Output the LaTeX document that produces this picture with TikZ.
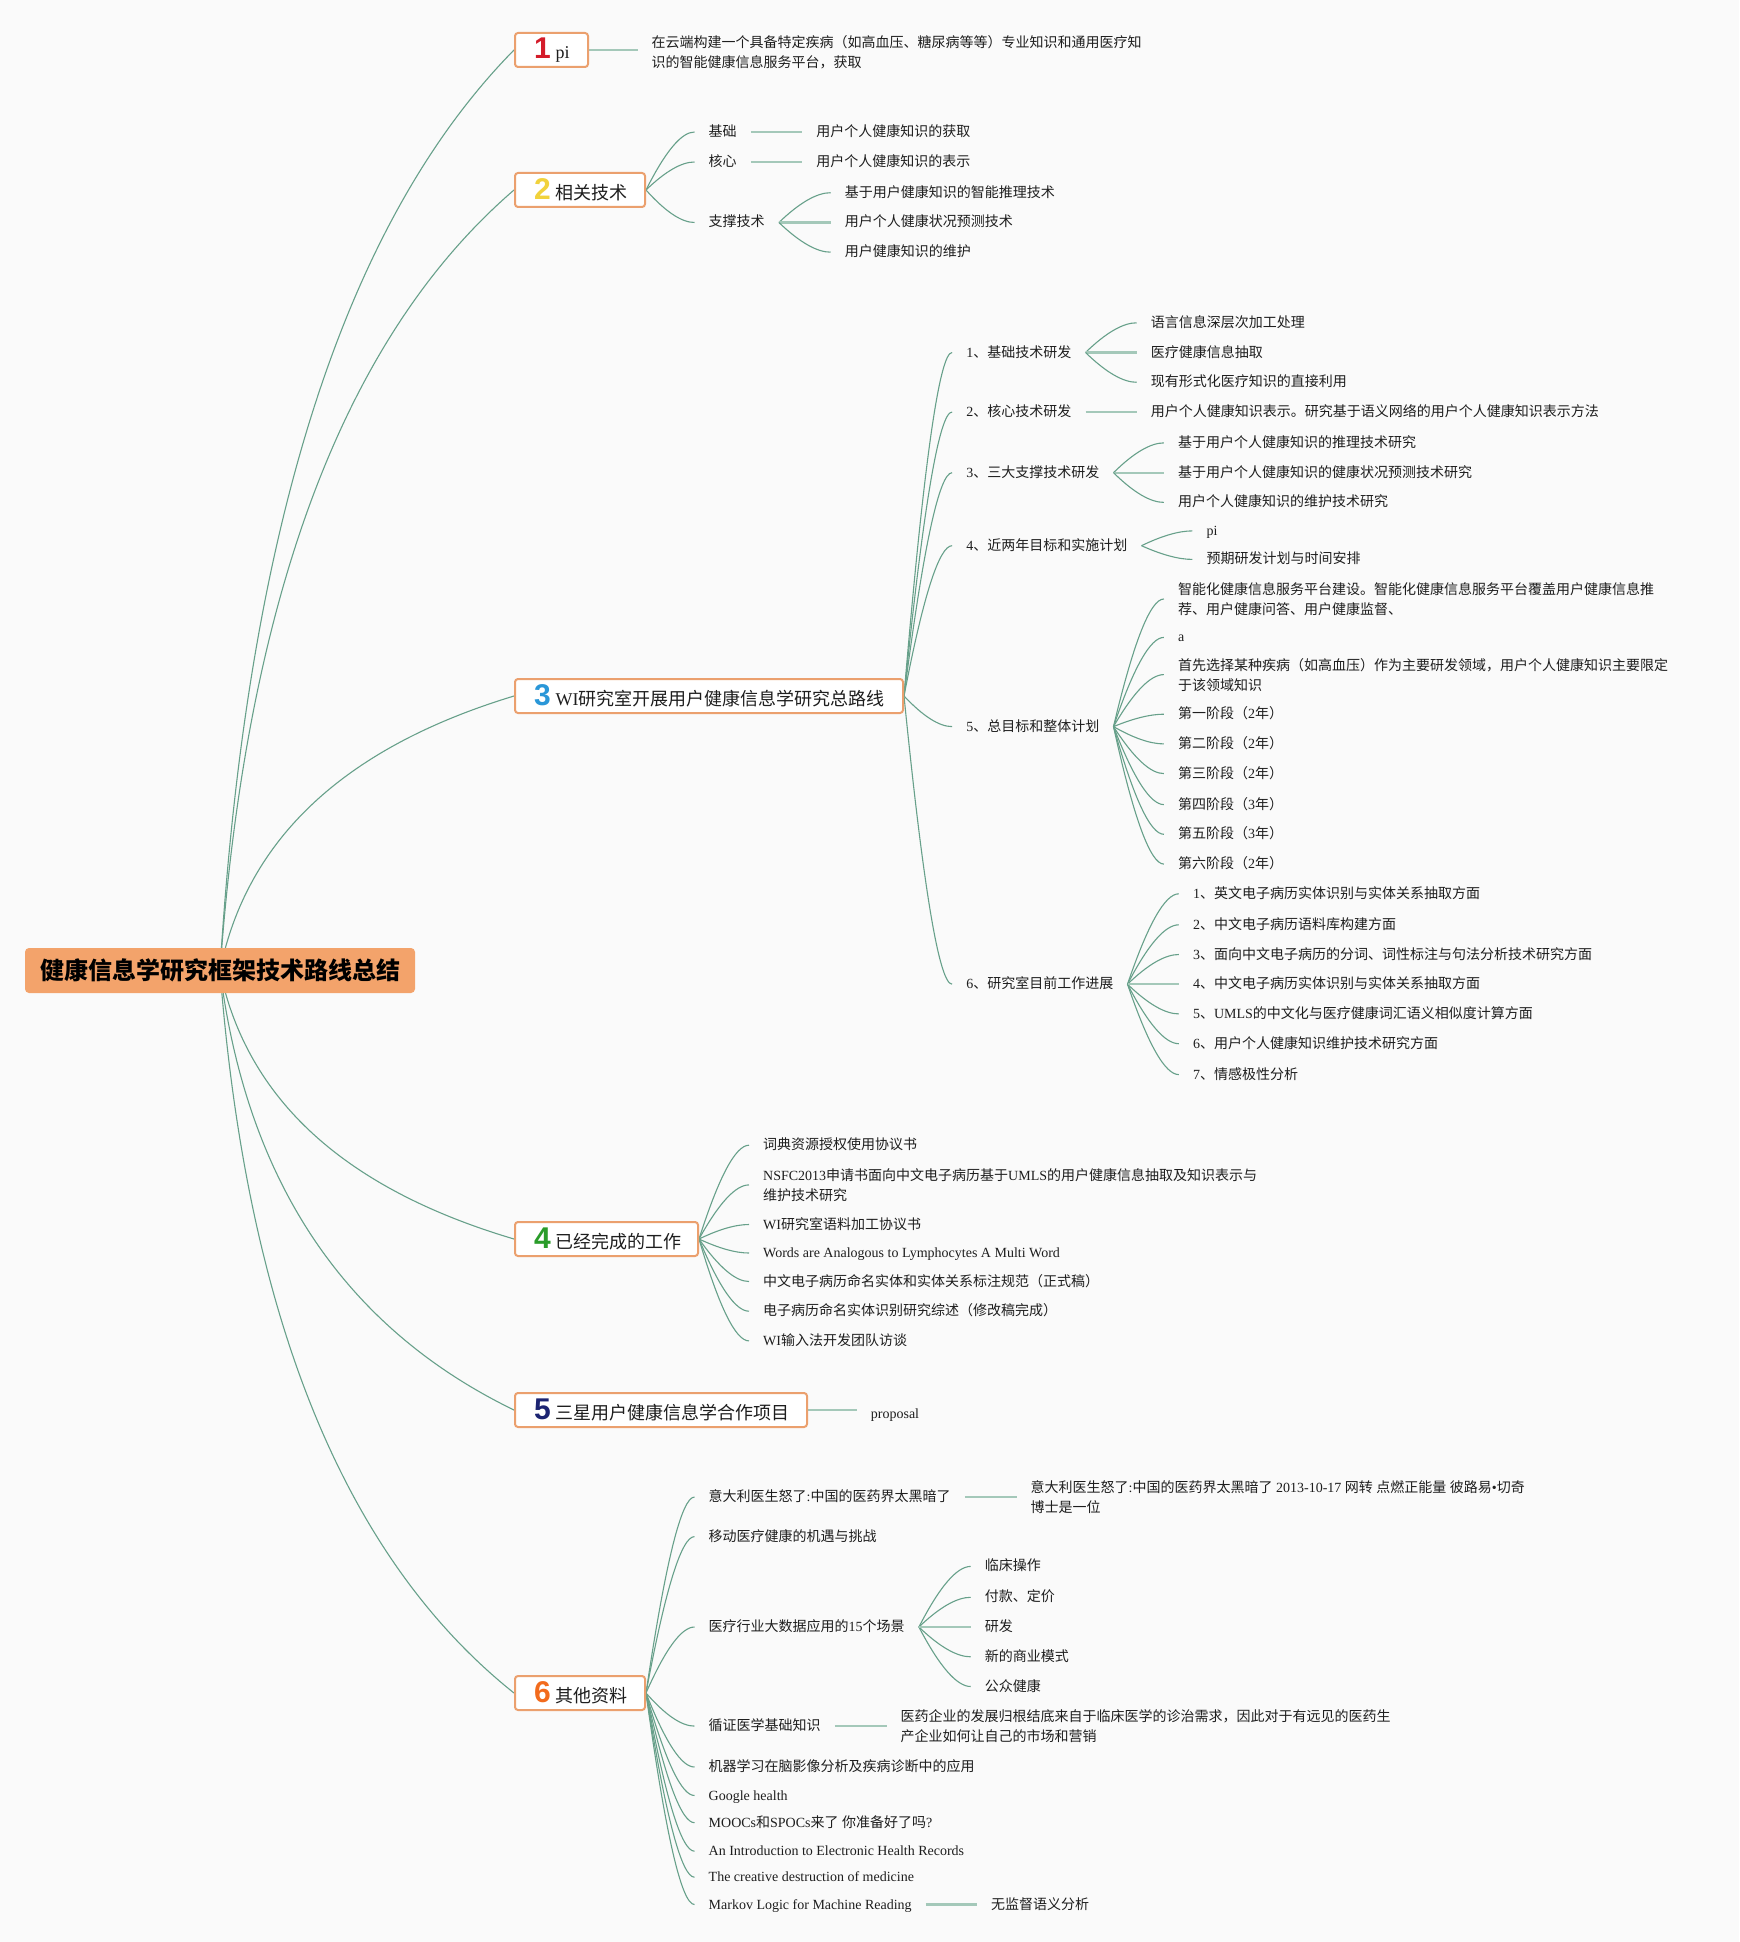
\documentclass[tikz,border=0pt]{standalone}
\usepackage{fontspec}
\setmainfont{Liberation Serif}
\newfontfamily\cjkfont{Noto Sans CJK SC}
\newfontfamily\digitfont{Liberation Sans}
\usetikzlibrary{calc}
\definecolor{bgc}{HTML}{FAFAFA}
\definecolor{rootc}{HTML}{F3A36B}
\definecolor{boxc}{HTML}{EBA06E}
\definecolor{connc}{HTML}{67A08A}
\definecolor{strc}{HTML}{A4C8B9}
\definecolor{txtc}{HTML}{1E1E1E}
\definecolor{n1c}{HTML}{D41C2A}
\definecolor{n2c}{HTML}{F1D23C}
\definecolor{n3c}{HTML}{2A97D8}
\definecolor{n4c}{HTML}{2A9C2A}
\definecolor{n5c}{HTML}{1C2472}
\definecolor{n6c}{HTML}{F26B1D}
% automatic switch to a CJK font for CJK characters
\XeTeXinterchartokenstate=1
\newXeTeXintercharclass\cjkclass
\newcount\cjkcnt
\cjkcnt="3000
\loop\XeTeXcharclass\cjkcnt=\cjkclass \advance\cjkcnt by 1 \ifnum\cjkcnt<"3040 \repeat
\cjkcnt="4E00
\loop\XeTeXcharclass\cjkcnt=\cjkclass \advance\cjkcnt by 1 \ifnum\cjkcnt<"A000 \repeat
\cjkcnt="FF00
\loop\XeTeXcharclass\cjkcnt=\cjkclass \advance\cjkcnt by 1 \ifnum\cjkcnt<"FFF0 \repeat
\XeTeXinterchartoks 0 \cjkclass = {\cjkfont}
\XeTeXinterchartoks 4095 \cjkclass = {\cjkfont}
\XeTeXinterchartoks \cjkclass 0 = {\rmfamily}
\XeTeXinterchartoks \cjkclass 4095 = {\rmfamily}
\pgfdeclarelayer{bgl}
\pgfdeclarelayer{connl}
\pgfsetlayers{bgl,connl,main}
\newcommand\boxnum[2]{{\digitfont\bfseries\fontsize{30}{30}\selectfont\color{#1}#2}}
\newcommand\fanc[2]{\draw[conn] let \p1=(#1.east), \p2=(#2.west) in (\p1) .. controls ({\x1+0.4*(\x2-\x1)},{\y1+0.667*(\y2-\y1)}) and ({\x2-0.267*(\x2-\x1)},\y2) .. (\p2);}
\newcommand\rootc[1]{\draw[conn] let \p1=(root.center), \p2=(#1.west) in (\p1) .. controls ({\x1+26.7pt},{\y1+0.48*(\y2-\y1)}) and ({\x2+0.667*(\x1+40pt-\x2)},{\y2+0.187*(\y1-\y2)}) .. (\p2);}
\newcommand\strc[2]{\draw[straight] (#1.east) -- (#2.west);}
\newcommand\strh[2]{\draw[straight] (#1.east) -- (#1.east -| #2.west);}
\begin{document}
\begin{tikzpicture}[x=1pt,y=-1pt,
  conn/.style={draw=connc,line width=1.1pt},
  straight/.style={draw=strc,line width=2.2pt},
  rootn/.style={fill=rootc,rounded corners=4pt,minimum width=390pt,minimum height=45pt,inner sep=0pt,font=\bfseries\fontsize{24}{28}\selectfont,text=black},
  lvl/.style={draw=boxc,line width=2pt,fill=white,rounded corners=3pt,minimum height=34pt,inner xsep=19pt,inner ysep=0pt,anchor=west,font=\fontsize{18}{22}\selectfont,text=txtc},
  tx/.style={anchor=west,yshift=-2pt,inner xsep=14pt,inner ysep=1pt,text height=12pt,text depth=3pt,font=\fontsize{14}{20}\selectfont,text=txtc},
  txm/.style={anchor=west,yshift=-2pt,inner xsep=14pt,inner ysep=1pt,align=left,font=\fontsize{14}{20}\selectfont,text=txtc}]
\begin{pgfonlayer}{bgl}
\fill[bgc] (0,0) rectangle (1739,1942);
\end{pgfonlayer}
% root
\node[rootn] (root) at (220,970.5) {健康信息学研究框架技术路线总结};
% main branches
\node[lvl] (b1) at (514,50) {\makebox[35pt][l]{\boxnum{n1c}{1}\hspace{5pt}pi}};
\node[lvl] (b2) at (514,190) {\makebox[92pt][l]{\boxnum{n2c}{2}\hspace{5pt}相关技术}};
\node[lvl] (b3) at (514,696) {\makebox[350pt][l]{\boxnum{n3c}{3}\hspace{5pt}WI研究室开展用户健康信息学研究总路线}};
\node[lvl] (b4) at (514,1239) {\makebox[145pt][l]{\boxnum{n4c}{4}\hspace{5pt}已经完成的工作}};
\node[lvl] (b5) at (514,1410) {\makebox[254pt][l]{\boxnum{n5c}{5}\hspace{5pt}三星用户健康信息学合作项目}};
\node[lvl] (b6) at (514,1693) {\makebox[92pt][l]{\boxnum{n6c}{6}\hspace{5pt}其他资料}};
% branch 1
\node[txm] (c1) at (637.5,50) {在云端构建一个具备特定疾病（如高血压、糖尿病等等）专业知识和通用医疗知\\识的智能健康信息服务平台，获取};
% branch 2
\node[tx] (c21) at (694.5,130) {基础};
\node[tx] (c21a) at (802.2,130) {用户个人健康知识的获取};
\node[tx] (c22) at (694.5,160) {核心};
\node[tx] (c22a) at (802.2,160) {用户个人健康知识的表示};
\node[tx] (c23) at (694.5,220.5) {支撑技术};
\node[tx] (c23a) at (830.7,190.7) {基于用户健康知识的智能推理技术};
\node[tx] (c23b) at (830.7,220.5) {用户个人健康状况预测技术};
\node[tx] (c23c) at (830.7,250.2) {用户健康知识的维护};
% branch 3
\node[tx] (c31) at (952.1,350.5) {1、基础技术研发};
\node[tx] (c31a) at (1136.7,320.8) {语言信息深层次加工处理};
\node[tx] (c31b) at (1136.7,350.5) {医疗健康信息抽取};
\node[tx] (c31c) at (1136.7,380.3) {现有形式化医疗知识的直接利用};
\node[tx] (c32) at (952.1,410) {2、核心技术研发};
\node[tx] (c32a) at (1136.7,410) {用户个人健康知识表示。研究基于语义网络的用户个人健康知识表示方法};
\node[tx] (c33) at (952.1,470.7) {3、三大支撑技术研发};
\node[tx] (c33a) at (1163.9,440.9) {基于用户个人健康知识的推理技术研究};
\node[tx] (c33b) at (1163.9,470.7) {基于用户个人健康知识的健康状况预测技术研究};
\node[tx] (c33c) at (1163.9,500.4) {用户个人健康知识的维护技术研究};
\node[tx] (c34) at (952.1,543.7) {4、近两年目标和实施计划};
\node[tx] (c34a) at (1192.4,528.9) {pi};
\node[tx] (c34b) at (1192.4,557.4) {预期研发计划与时间安排};
\node[tx] (c35) at (952.1,724.6) {5、总目标和整体计划};
\node[txm] (c35a) at (1163.9,597) {智能化健康信息服务平台建设。智能化健康信息服务平台覆盖用户健康信息推\\荐、用户健康问答、用户健康监督、};
\node[tx] (c35b) at (1163.9,635.4) {a};
\node[txm] (c35c) at (1163.9,672.6) {首先选择某种疾病（如高血压）作为主要研发领域，用户个人健康知识主要限定\\于该领域知识};
\node[tx] (c35d) at (1163.9,712.2) {第一阶段（2年）};
\node[tx] (c35e) at (1163.9,741.9) {第二阶段（2年）};
\node[tx] (c35f) at (1163.9,771.6) {第三阶段（2年）};
\node[tx] (c35g) at (1163.9,802.6) {第四阶段（3年）};
\node[tx] (c35h) at (1163.9,832.3) {第五阶段（3年）};
\node[tx] (c35i) at (1163.9,862.1) {第六阶段（2年）};
\node[tx] (c36) at (952.1,982.2) {6、研究室目前工作进展};
\node[tx] (c36a) at (1178.8,891.8) {1、英文电子病历实体识别与实体关系抽取方面};
\node[tx] (c36b) at (1178.8,922.8) {2、中文电子病历语料库构建方面};
\node[tx] (c36c) at (1178.8,952.5) {3、面向中文电子病历的分词、词性标注与句法分析技术研究方面};
\node[tx] (c36d) at (1178.8,982.2) {4、中文电子病历实体识别与实体关系抽取方面};
\node[tx] (c36e) at (1178.8,1011.9) {5、UMLS的中文化与医疗健康词汇语义相似度计算方面};
\node[tx] (c36f) at (1178.8,1041.7) {6、用户个人健康知识维护技术研究方面};
\node[tx] (c36g) at (1178.8,1072.6) {7、情感极性分析};
% branch 4
\node[tx] (d1) at (749,1143.2) {词典资源授权使用协议书};
\node[txm] (d2) at (749,1182.9) {NSFC2013申请书面向中文电子病历基于UMLS的用户健康信息抽取及知识表示与\\维护技术研究};
\node[tx] (d3) at (749,1222.5) {WI研究室语料加工协议书};
\node[tx] (d4) at (749,1251) {Words are Analogous to Lymphocytes A Multi Word};
\node[tx] (d5) at (749,1279.5) {中文电子病历命名实体和实体关系标注规范（正式稿）};
\node[tx] (d6) at (749,1309.2) {电子病历命名实体识别研究综述（修改稿完成）};
\node[tx] (d7) at (749,1338.9) {WI输入法开发团队访谈};
% branch 5
\node[tx] (e1) at (856.7,1412) {proposal};
% branch 6
\node[tx] (f1) at (694.5,1495) {意大利医生怒了:中国的医药界太黑暗了};
\node[txm] (f1a) at (1016.5,1495) {意大利医生怒了:中国的医药界太黑暗了 2013-10-17 网转 点燃正能量 彼路易•切奇\\博士是一位};
\node[tx] (f2) at (694.5,1534.6) {移动医疗健康的机遇与挑战};
\node[tx] (f3) at (694.5,1625) {医疗行业大数据应用的15个场景};
\node[tx] (f3a) at (970.7,1564.4) {临床操作};
\node[tx] (f3b) at (970.7,1595.3) {付款、定价};
\node[tx] (f3c) at (970.7,1625) {研发};
\node[tx] (f3d) at (970.7,1654.8) {新的商业模式};
\node[tx] (f3e) at (970.7,1684.5) {公众健康};
\node[tx] (f4) at (694.5,1724.1) {循证医学基础知识};
\node[txm] (f4a) at (886.5,1724.1) {医药企业的发展归根结底来自于临床医学的诊治需求，因此对于有远见的医药生\\产企业如何让自己的市场和营销};
\node[tx] (f5) at (694.5,1765) {机器学习在脑影像分析及疾病诊断中的应用};
\node[tx] (f6) at (694.5,1793.5) {Google health};
\node[tx] (f7) at (694.5,1820.7) {MOOCs和SPOCs来了 你准备好了吗?};
\node[tx] (f8) at (694.5,1849.2) {An Introduction to Electronic Health Records};
\node[tx] (f9) at (694.5,1875.2) {The creative destruction of medicine};
\node[tx] (f10) at (694.5,1902.5) {Markov Logic for Machine Reading};
\node[tx] (f10a) at (976.9,1902.5) {无监督语义分析};
% connectors
\begin{pgfonlayer}{connl}
\foreach \t in {b1,b2,b3,b4,b5,b6} {\rootc{\t}}
\strh{b1}{c1}
\foreach \t in {c21,c22,c23} {\fanc{b2}{\t}}
\strc{c21}{c21a}
\strc{c22}{c22a}
\fanc{c23}{c23a}
\strc{c23}{c23b}
\fanc{c23}{c23c}
\foreach \t in {c31,c32,c33,c34,c35,c36} {\fanc{b3}{\t}}
\fanc{c31}{c31a}
\strc{c31}{c31b}
\fanc{c31}{c31c}
\strc{c32}{c32a}
\fanc{c33}{c33a}
\strc{c33}{c33b}
\fanc{c33}{c33c}
\fanc{c34}{c34a}
\fanc{c34}{c34b}
\foreach \t in {c35a,c35b,c35c,c35d,c35e,c35f,c35g,c35h,c35i} {\fanc{c35}{\t}}
\foreach \t in {c36a,c36b,c36c,c36e,c36f,c36g} {\fanc{c36}{\t}}
\strc{c36}{c36d}
\foreach \t in {d1,d2,d3,d4,d5,d6,d7} {\fanc{b4}{\t}}
\strh{b5}{e1}
\foreach \t in {f1,f2,f3,f4,f5,f6,f7,f8,f9,f10} {\fanc{b6}{\t}}
\strc{f1}{f1a}
\foreach \t in {f3a,f3b,f3d,f3e} {\fanc{f3}{\t}}
\strc{f3}{f3c}
\strc{f4}{f4a}
\strc{f10}{f10a}
\end{pgfonlayer}
\end{tikzpicture}
\end{document}
